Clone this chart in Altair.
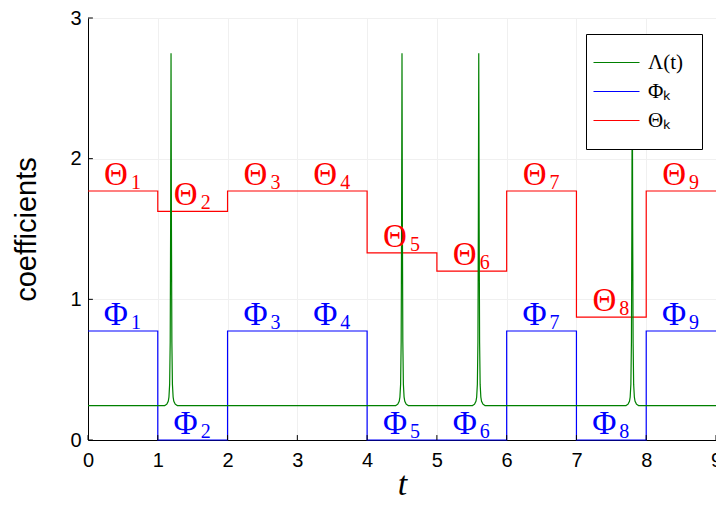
import altair as alt
import pandas as pd

# ---- data ----
t_edges = [0, 1, 2, 3, 4, 5, 6, 7, 8, 9]
phi_vals = [0.775, 0.0, 0.775, 0.775, 0.0, 0.0, 0.775, 0.0, 0.775]
theta_vals = [1.77, 1.625, 1.77, 1.77, 1.33, 1.20, 1.77, 0.874, 1.77]
label_idx = ["1", "2", "3", "4", "5", "6", "7", "8", "9"]

lam_base = 0.245
spike_t = [1.19, 4.50, 5.60, 7.80]
spike_top = [2.75, 2.75, 2.75, 2.75]
spike_dt = [-0.09, -0.06, -0.04, -0.03, -0.02, -0.012, -0.006, 0.0,
            0.006, 0.012, 0.02, 0.03, 0.04, 0.06, 0.09]
spike_frac = [0.0, 0.004, 0.012, 0.024, 0.06, 0.18, 0.5, 1.0,
              0.5, 0.18, 0.06, 0.024, 0.012, 0.004, 0.0]

x_ticks = [0, 1, 2, 3, 4, 5, 6, 7, 8, 9]
y_ticks = [0, 1, 2, 3]

S_LAM, S_PHI, S_THE = "Λ(t)", "Φₖ", "Θₖ"
COLORS = ["#008000", "#0000ff", "#ff0000"]

# ---- tables ----
rows = []
for name, vals in [(S_PHI, phi_vals), (S_THE, theta_vals)]:
    for i, t in enumerate(t_edges):
        rows.append({"series": name, "t": t, "v": vals[min(i, len(vals) - 1)]})
steps = pd.DataFrame(rows)

lam_rows = [{"series": S_LAM, "t": 0.0, "v": lam_base}]
for c, top in zip(spike_t, spike_top):
    for d, f in zip(spike_dt, spike_frac):
        lam_rows.append({"series": S_LAM, "t": c + d, "v": lam_base + f * (top - lam_base)})
lam_rows.append({"series": S_LAM, "t": 9.0, "v": lam_base})
lam = pd.DataFrame(lam_rows)

lab_rows = []
for k, idx in enumerate(label_idx):
    lab_rows.append({"t": k + 0.5, "v": theta_vals[k], "letter": "Θ", "sub": idx, "col": COLORS[2]})
    lab_rows.append({"t": k + 0.5, "v": phi_vals[k], "letter": "Φ", "sub": idx, "col": COLORS[1]})
labels = pd.DataFrame(lab_rows)

xt = pd.DataFrame({"t": x_ticks, "v": [0] * len(x_ticks), "v2": [0.035] * len(x_ticks)})
yt = pd.DataFrame({"v": y_ticks, "t": [0] * len(y_ticks), "t2": [0.07] * len(y_ticks)})

PLOT_W = 628
PLOT_H = 422

# ---- encodings ----
xenc = alt.X(
    "t:Q",
    scale=alt.Scale(domain=[0, 9], nice=False, zero=False),
    axis=alt.Axis(
        values=x_ticks, format="d", title="t", labelFlush=False, ticks=False,
        labelFont="Liberation Sans", labelFontSize=20, labelColor="black", labelPadding=10,
        titleFont="Liberation Serif", titleFontStyle="italic", titleFontWeight="normal",
        titleFontSize=34, titleColor="black", titleX=PLOT_W / 2, titleY=54,
        titleBaseline="alphabetic", titleAlign="center",
        domainColor="black", domainWidth=1, grid=True, gridColor="#f0f0f0", gridWidth=1,
    ),
)
yenc = alt.Y(
    "v:Q",
    scale=alt.Scale(domain=[0, 3], nice=False),
    axis=alt.Axis(
        values=y_ticks, format="d", title="coefficients", labelFlush=False, ticks=False,
        labelFont="Liberation Sans", labelFontSize=20, labelColor="black", labelPadding=7,
        titleFont="Liberation Sans", titleFontWeight="normal", titleFontSize=29,
        titleColor="black", titleAngle=270, titleX=-53, titleY=211,
        titleBaseline="alphabetic", titleAlign="center",
        domainColor="black", domainWidth=1, grid=True, gridColor="#f0f0f0", gridWidth=1,
    ),
)
cenc = alt.Color(
    "series:N",
    scale=alt.Scale(domain=[S_LAM, S_PHI, S_THE], range=COLORS),
    legend=alt.Legend(
        title=None, orient="none", legendX=498, legendY=16,
        padding=18, rowPadding=7, labelFont="Liberation Serif", labelFontSize=21,
        labelColor="black", labelOffset=21, symbolSize=324,
        symbolType="M-2.556,0L2.556,0", symbolOffset=2, symbolStrokeWidth=1.2,
        strokeColor="black", fillColor="white",
    ),
)

step_layer = alt.Chart(steps).mark_line(interpolate="step-after", strokeWidth=1.2).encode(
    x=xenc, y=yenc, color=cenc
)
lam_layer = alt.Chart(lam).mark_line(strokeWidth=1.2).encode(
    x="t:Q", y="v:Q", color="series:N"
)
xtick_layer = alt.Chart(xt).mark_rule(color="black", strokeWidth=1).encode(
    x="t:Q", y="v:Q", y2="v2:Q"
)
ytick_layer = alt.Chart(yt).mark_rule(color="black", strokeWidth=1).encode(
    y="v:Q", x="t:Q", x2="t2:Q"
)
letter_layer = alt.Chart(labels).mark_text(
    font="Liberation Serif", fontSize=33, align="center", baseline="alphabetic", dx=-7, dy=-6
).encode(x="t:Q", y="v:Q", text="letter:N", fill=alt.Fill("col:N", scale=None))
sub_layer = alt.Chart(labels).mark_text(
    font="Liberation Serif", fontSize=20, align="center", baseline="alphabetic", dx=13, dy=-2
).encode(x="t:Q", y="v:Q", text="sub:N", fill=alt.Fill("col:N", scale=None))

chart = alt.layer(
    step_layer, lam_layer, xtick_layer, ytick_layer, letter_layer, sub_layer
).properties(
    width=PLOT_W, height=PLOT_H,
    padding={"left": 80, "top": 10, "right": 0, "bottom": 58},
    autosize=alt.AutoSizeParams(type="none"),
    background="white",
).configure_view(stroke=None)

chart.save("out.html", embed_options={"renderer": "svg", "actions": False})
